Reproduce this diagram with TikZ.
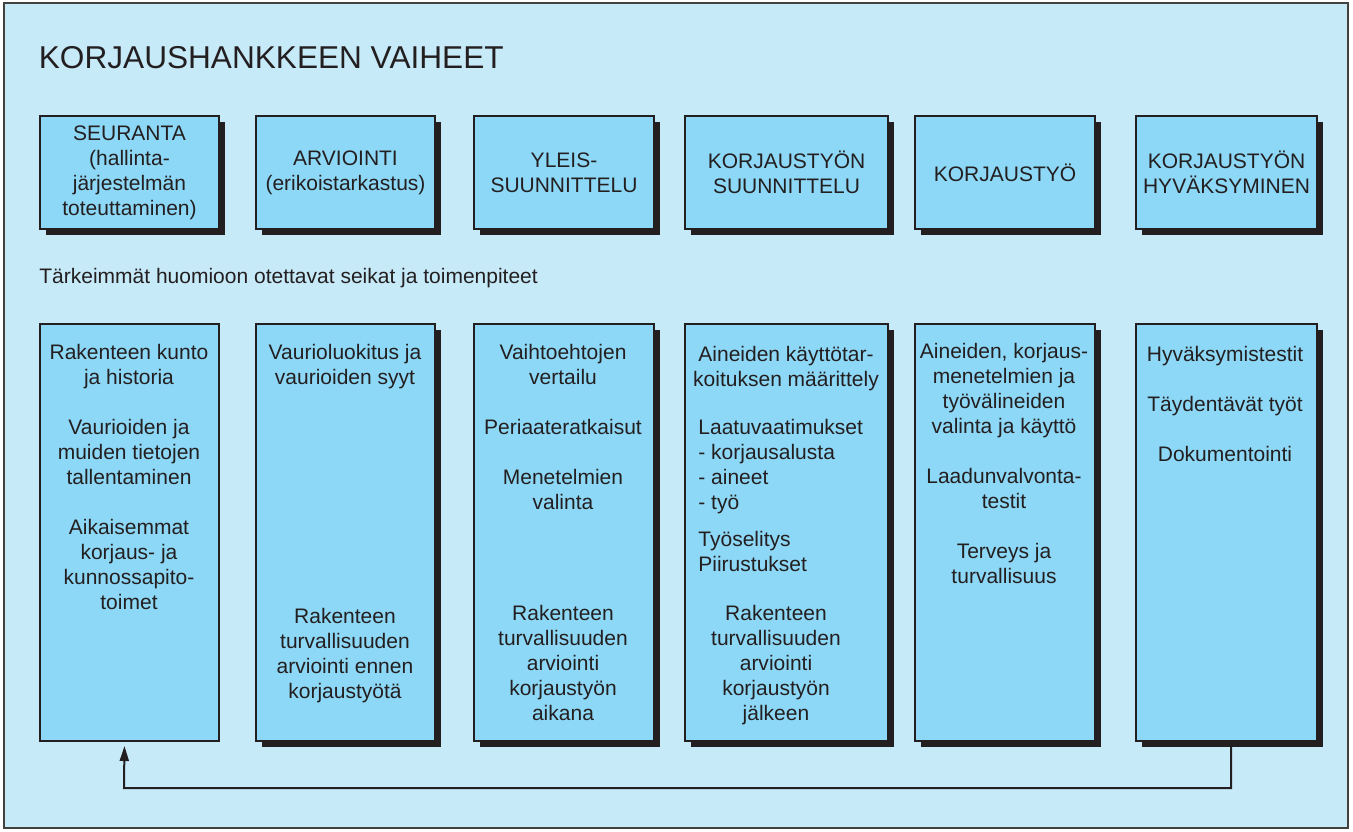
\documentclass[tikz,border=0pt]{standalone}
\usepackage{fontspec}
\setmainfont{Liberation Sans}
\usetikzlibrary{shadows,arrows.meta}
\definecolor{paleblue}{RGB}{199, 234, 249}
\definecolor{skyblue}{RGB}{141, 216, 246}
\definecolor{inkblack}{RGB}{35, 31, 32}
\tikzset{
    phase/.style={draw=inkblack, fill=skyblue, line width=1pt, anchor=north west, inner sep=0pt,
                  align=center, text=inkblack, font=\fontsize{10.5}{12.5}\selectfont},
    shade/.style={drop shadow={shadow xshift=3pt, shadow yshift=-3pt, fill=inkblack, opacity=1}},
    item/.style={anchor=north, align=center, inner sep=0pt, text=inkblack, font=\fontsize{10.5}{12.5}\selectfont},
    feedback/.style={line width=1pt, draw=inkblack, -{Triangle[length=7.5pt, width=4.5pt]}, shorten >=2pt}
}

\begin{document}
\begin{tikzpicture}[x=0.5pt, y=-0.5pt]
            \useasboundingbox (0,0) rectangle (1353,831);
            \filldraw[draw=inkblack!85, fill=paleblue, line width=1pt] (4,3) rectangle (1348,828);

            % headings
            \node[anchor=base west, inner sep=0pt, text=inkblack, font=\fontsize{15.8}{19}\selectfont] (title) at (38.5,68) {KORJAUSHANKKEEN VAIHEET};
            \node[anchor=base west, inner sep=0pt, text=inkblack, font=\fontsize{10.5}{12.5}\selectfont] (sub)  at (39,283) {Tärkeimmät huomioon otettavat seikat ja toimenpiteet};

            % phases
            \foreach \n/\x/\w/\txt in {1/39/89.5pt/{SEURANTA\\(hallinta-\\järjestelmän\\toteuttaminen)},
                                       2/255/89.5pt/{ARVIOINTI\\(erikoistarkastus)},
                                       3/473/90pt/{YLEIS-\\SUUNNITTELU},
                                       4/684/101.5pt/{KORJAUSTYÖN\\SUUNNITTELU},
                                       5/914/90pt/{KORJAUSTYÖ},
                                       6/1135/90.5pt/{KORJAUSTYÖN\\HYVÄKSYMINEN}}
                \node[phase, shade, minimum width=\w, minimum height=56.5pt] (t\n) at (\x,115) {\txt};

            % tasks
            \node[phase,        minimum width=89.5pt,  minimum height=208.5pt] (b1) at (39,323)   {};
            \node[phase, shade, minimum width=89.5pt,  minimum height=208.5pt] (b2) at (255,323)  {};
            \node[phase, shade, minimum width=90pt,    minimum height=208.5pt] (b3) at (473,323)  {};
            \node[phase, shade, minimum width=101.5pt, minimum height=208.5pt] (b4) at (684,323)  {};
            \node[phase, shade, minimum width=90pt,    minimum height=208.5pt] (b5) at (914,323)  {};
            \node[phase, shade, minimum width=90.5pt,  minimum height=208.5pt] (b6) at (1135,323) {};

            \node[item] (b1a) at (129,344)  {Rakenteen kunto\\ja historia\\[12.5pt]Vaurioiden ja\\muiden tietojen\\tallentaminen\\[12.5pt]Aikaisemmat\\korjaus- ja\\kunnossapito-\\toimet};
            \node[item] (b2a) at (345,344)  {Vaurioluokitus ja\\vaurioiden syyt};
            \node[item] (b2b) at (345,608)  {Rakenteen\\turvallisuuden\\arviointi ennen\\korjaustyötä};
            \node[item] (b3a) at (563,344)  {Vaihtoehtojen\\vertailu\\[12.5pt]Periaateratkaisut\\[12.5pt]Menetelmien\\valinta};
            \node[item] (b3b) at (563,605)  {Rakenteen\\turvallisuuden\\arviointi\\korjaustyön\\aikana};
            \node[item] (b4a) at (786,346)  {Aineiden käyttötar-\\koituksen määrittely};
            \node[item, anchor=north west, align=left] (b4b) at (698,419) {Laatuvaatimukset\\- korjausalusta\\- aineet\\- työ\\[6pt]Työselitys\\Piirustukset};
            \node[item] (b4c) at (776,605)  {Rakenteen\\turvallisuuden\\arviointi\\korjaustyön\\jälkeen};
            \node[item] (b5a) at (1004,343) {Aineiden, korjaus-\\menetelmien ja\\työvälineiden\\valinta ja käyttö\\[12.5pt]Laadunvalvonta-\\testit\\[12.5pt]Terveys ja\\turvallisuus};
            \node[item] (b6a) at (1225,346) {Hyväksymistestit\\[12.5pt]Täydentävät työt\\[12.5pt]Dokumentointi};

            % back to monitoring
            \coordinate (ret) at (124,788);
            \draw[feedback] ([xshift=2.25pt]b6.south) |- (ret) -- ([xshift=-2.5pt]b1.south);
        \end{tikzpicture}
\end{document}
